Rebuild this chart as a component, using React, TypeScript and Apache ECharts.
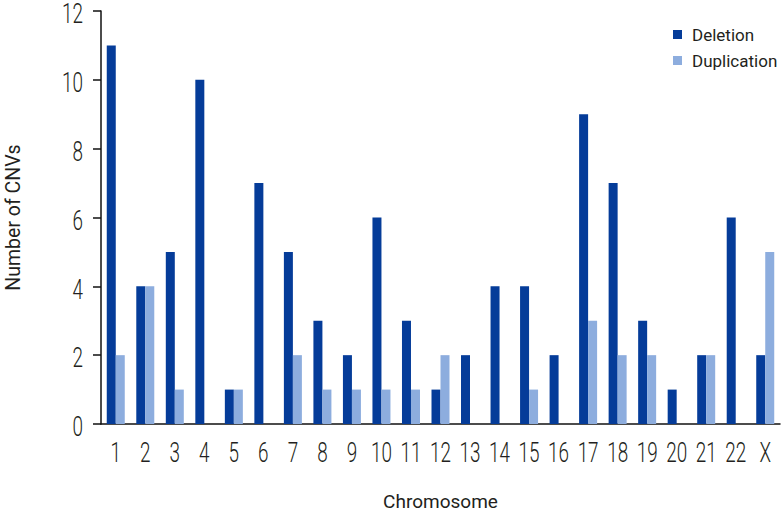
import React, { useEffect, useRef } from "react";
import * as echarts from "echarts";

const categories = ["1","2","3","4","5","6","7","8","9","10","11","12","13","14","15","16","17","18","19","20","21","22","X"];
const deletion = [11,4,5,10,1,7,5,3,2,6,3,1,2,4,4,2,9,7,3,1,2,6,2];
const duplication = [2,4,1,0,1,0,2,1,1,1,1,2,0,0,1,0,3,2,2,0,2,0,5];
const yTickValues = [0, 2, 4, 6, 8, 10, 12];
const yTickLabels = ["0", "2", "4", "6", "8", "10", "12"];

const FONT = "Roboto, 'DejaVu Sans', sans-serif";
const TEXT = "#231f20";

export default function App() {
  const ref = useRef<HTMLDivElement>(null);
  useEffect(() => {
    if (!ref.current) return;
    const chart = echarts.init(ref.current, null, { renderer: "svg" });
    chart.setOption({
      animation: false,
      textStyle: { fontFamily: FONT },
      grid: {
        left: 101,
        right: 2,
        top: 11,
        bottom: 89,
        containLabel: false,
        outerBoundsMode: "none",
      },
      legend: {
        orient: "vertical",
        left: 668,
        top: 21,
        itemWidth: 9,
        itemHeight: 9,
        itemGap: 9,
        icon: "rect",
        textStyle: { fontFamily: FONT, fontSize: 17, color: TEXT, padding: [0, 0, 0, 5] },
        data: ["Deletion", "Duplication"],
      },
      xAxis: {
        type: "category",
        data: categories,
        name: "Chromosome",
        nameLocation: "middle",
        nameGap: 68,
        nameTextStyle: { fontFamily: FONT, fontSize: 19, color: TEXT },
        axisLine: { lineStyle: { color: "#111", width: 1.5 } },
        axisTick: { inside: true, length: 7, lineStyle: { color: "#111", width: 1.5 } },
        axisLabel: { show: false, interval: 0 },
      },
      yAxis: {
        type: "value",
        min: yTickValues[0],
        max: yTickValues[yTickValues.length - 1],
        interval: yTickValues[1] - yTickValues[0],
        name: "Number of CNVs",
        nameLocation: "middle",
        nameGap: 78,
        nameTextStyle: { fontFamily: FONT, fontSize: 19.5, color: TEXT },
        splitLine: { show: false },
        axisLine: { show: true, lineStyle: { color: "#111", width: 1.5 } },
        axisTick: { show: true, length: 8, lineStyle: { color: "#111", width: 1.5 } },
        axisLabel: { show: false },
      },
      series: [
        {
          name: "Deletion",
          type: "bar",
          data: deletion,
          barWidth: 9,
          barGap: "0%",
          itemStyle: { color: "#053c99" },
        },
        {
          name: "Duplication",
          type: "bar",
          data: duplication,
          barWidth: 9,
          barGap: "0%",
          itemStyle: { color: "#8dadde" },
        },
      ],
    });

    const labelStyle = {
      fontFamily: FONT,
      fontSize: 27,
      lineHeight: 22,
      fontWeight: 300,
      fill: TEXT,
    };
    const graphics: any[] = [];
    yTickValues.forEach((v, i) => {
      const p = chart.convertToPixel({ gridIndex: 0 }, [0, v]) as number[];
      graphics.push({
        type: "text",
        x: 83,
        y: p[1] + 3,
        scaleX: 0.7,
        silent: true,
        style: { ...labelStyle, text: yTickLabels[i], textAlign: "right", textVerticalAlign: "middle" },
      });
    });
    categories.forEach((c, i) => {
      const p = chart.convertToPixel({ gridIndex: 0 }, [i, 0]) as number[];
      graphics.push({
        type: "text",
        x: p[0],
        y: 453,
        scaleX: 0.7,
        silent: true,
        style: { ...labelStyle, text: c, textAlign: "center", textVerticalAlign: "middle" },
      });
    });
    chart.setOption({ graphic: graphics });
    return () => chart.dispose();
  }, []);
  return (
    <div
      ref={ref}
      style={{ position: "fixed", left: 0, top: 0, width: 782, height: 513, background: "#fff" }}
    />
  );
}
